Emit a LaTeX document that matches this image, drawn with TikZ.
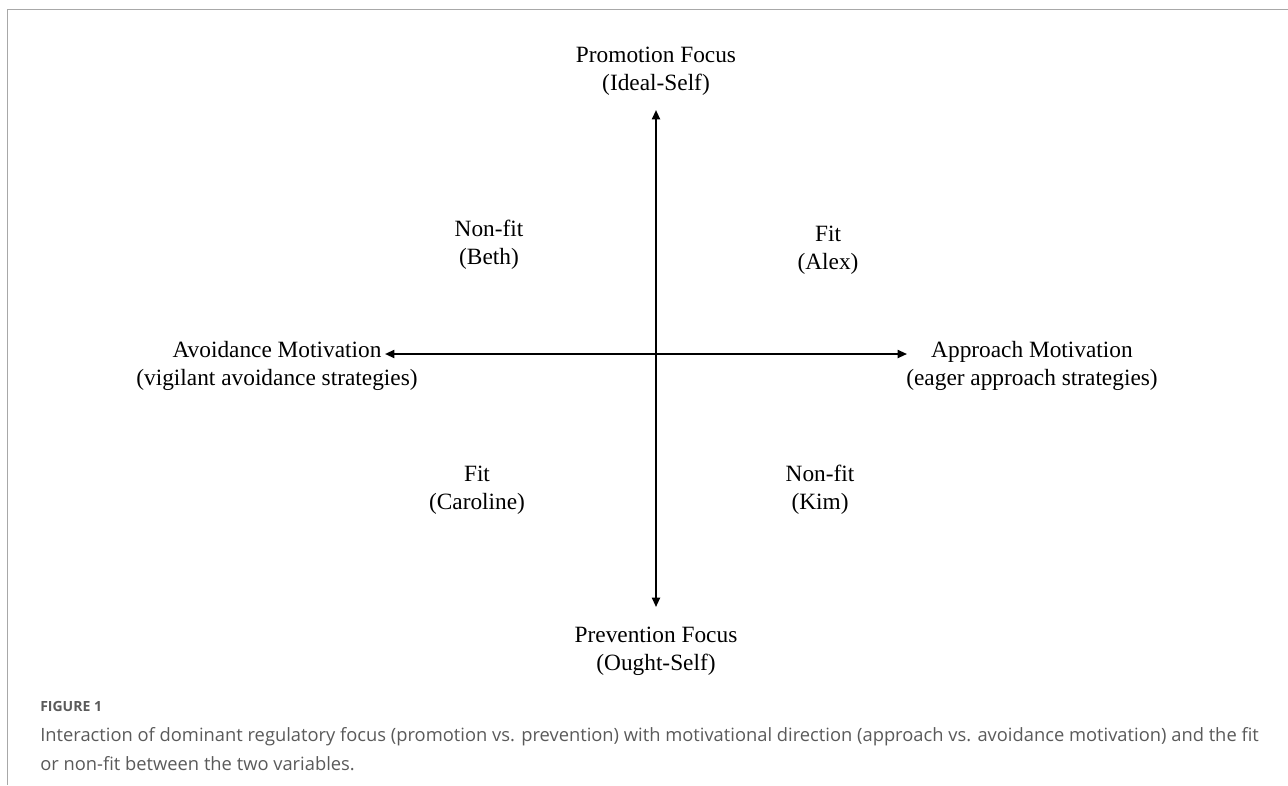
\documentclass[tikz,border=0pt]{standalone}
\usepackage{fontspec}
\setmainfont{Liberation Serif}
\newfontfamily\capfont{Open Sans}
\usetikzlibrary{arrows.meta}
\definecolor{framegray}{HTML}{A8A8A8}
\definecolor{capgray}{HTML}{5A5A5A}
\tikzset{
    axislabel/.style = {align=center, inner sep=0pt, font=\fontsize{17.5}{21}\selectfont},
    quadlabel/.style = {align=center, inner sep=0pt, font=\fontsize{17.5}{21}\selectfont},
    axisarrow/.style = {{Triangle[length=7pt,width=6pt]}-{Triangle[length=7pt,width=6pt]}, line width=1.4pt},
    frameline/.style = {draw=framegray, line width=1.2pt},
    figtag/.style = {anchor=west, inner sep=0pt, text=capgray, font=\capfont\bfseries\fontsize{10.5}{12}\selectfont},
    captext/.style = {anchor=west, inner sep=0pt, align=left, text=capgray, font=\capfont\fontsize{13.75}{21.75}\selectfont}
}

\begin{document}
\begin{tikzpicture}[x=0.75pt, y=-0.75pt]
\useasboundingbox (0,0) rectangle (1288,785);
%
\draw[frameline] (7,9.5) -- (1288,9.5);
\draw[frameline] (7.5,9) -- (7.5,785);
%
\node[axislabel] at (656,71) (promo) {Promotion Focus\\(Ideal-Self)};
\node[axislabel] at (656,651) (prev) {Prevention Focus\\(Ought-Self)};
\node[axislabel] at (277,366) (avoid) {Avoidance Motivation\\(vigilant avoidance strategies)};
\node[axislabel] at (1032,366) (appr) {Approach Motivation\\(eager approach strategies)};
%
\node[quadlabel] at (489,245) (beth) {Non-fit\\(Beth)};
\node[quadlabel] at (828,250) (alex) {Fit\\(Alex)};
\node[quadlabel] at (477,490) (caro) {Fit\\(Caroline)};
\node[quadlabel] at (820,490) (kim) {Non-fit\\(Kim)};
%
\coordinate (ytop) at (656,110);
\coordinate (ybot) at (656,607);
\coordinate (xleft) at (385,354);
\coordinate (xright) at (907,354);
\draw[axisarrow] (ybot) -- (ytop);
\draw[axisarrow] (xleft) -- (xright);
%
\node[figtag] at (40,706) (fig) {FIGURE 1};
\node[captext] at (40,749.5) (cap) {Interaction of dominant regulatory focus (promotion vs. prevention) with motivational direction (approach vs. avoidance motivation) and the fit\\or non-fit between the two variables.};
\end{tikzpicture}
\end{document}
